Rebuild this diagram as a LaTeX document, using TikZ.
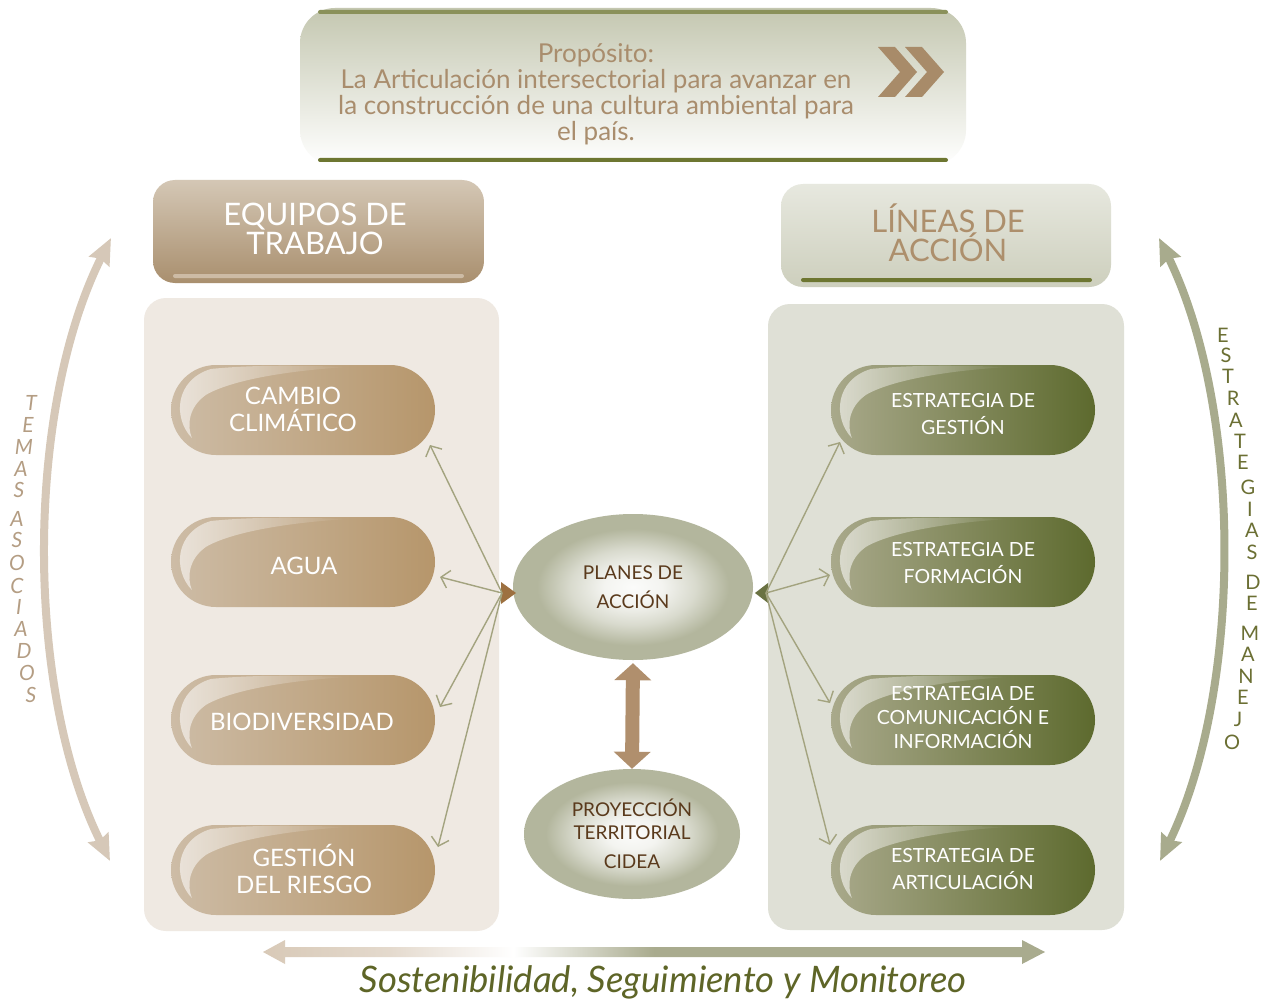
\documentclass[tikz,border=0pt]{standalone}
\usepackage{fontspec}
\setmainfont{Lato}
\usetikzlibrary{arrows.meta,fadings,shapes.geometric,shapes.misc}
\definecolor{topboxC}{HTML}{C4C7B0}
\definecolor{tanText}{HTML}{A98D6D}
\definecolor{chevC}{HTML}{A88B69}
\definecolor{lhTop}{HTML}{D4C7B5}
\definecolor{lhBot}{HTML}{A98F6E}
\definecolor{lhLine}{HTML}{CDBBA5}
\definecolor{rhTop}{HTML}{E7E8DF}
\definecolor{rhBot}{HTML}{CDCFBD}
\definecolor{rhText}{HTML}{AD8F6C}
\definecolor{olvD}{HTML}{6D7631}
\definecolor{olvLt}{HTML}{E2E1D0}
\definecolor{panelL}{HTML}{EFE9E2}
\definecolor{panelR}{HTML}{DFE0D6}
\definecolor{pillLl}{HTML}{CDBCA6}
\definecolor{pillLr}{HTML}{B6966B}
\definecolor{pillRl}{HTML}{A9A98B}
\definecolor{pillRr}{HTML}{5D6A2E}
\definecolor{ellC}{HTML}{B3B69D}
\definecolor{ellText}{HTML}{5A3A1C}
\definecolor{connC}{HTML}{A3A37F}
\definecolor{hubLC}{HTML}{9D7040}
\definecolor{hubRC}{HTML}{6A7242}
\definecolor{dblC}{HTML}{B08F6D}
\definecolor{arcLC}{HTML}{D6C8B8}
\definecolor{arcRC}{HTML}{A8AB8D}
\definecolor{sideLC}{HTML}{B49D83}
\definecolor{sideRC}{HTML}{6B6F33}
\definecolor{botL}{HTML}{D8C9B7}
\definecolor{botR}{HTML}{A9AB8E}
\definecolor{botText}{HTML}{5E6527}
\tikzfading[name=swfade, left color=transparent!0, right color=transparent!100]
\pgfdeclareradialshading{ellsh}{\pgfpoint{0bp}{0bp}}{color(0bp)=(white!95!ellC); color(6bp)=(white!85!ellC); color(13bp)=(white!50!ellC); color(20bp)=(ellC); color(25bp)=(ellC); color(50bp)=(ellC)}
\pgfdeclarehorizontalshading{botsh}{100bp}{color(0bp)=(botL); color(25bp)=(botL); color(33bp)=(botL!70!white); color(41bp)=(white); color(50bp)=(botR); color(75bp)=(botR); color(100bp)=(botR)}
\begin{document}
\begin{tikzpicture}[x=1pt,y=-1pt,
  pillL/.style={rounded rectangle, minimum width=264pt, minimum height=90pt, inner sep=0pt,
    left color=pillLl, right color=pillLr},
  pillR/.style={rounded rectangle, minimum width=264pt, minimum height=90pt, inner sep=0pt,
    left color=pillRl, right color=pillRr},
  pilltxL/.style={text=white, align=center, font=\fontsize{24}{27}\selectfont},
  pilltxR/.style={text=white, align=center, font=\fontsize{19.5}{27}\selectfont},
  ellbox/.style={ellipse, shading=ellsh, inner sep=0pt, text=ellText, align=center, font=\fontsize{19}{29}\selectfont},
  conn/.style={draw=connC, line width=1.4pt, -{Straight Barb[length=8pt,width=18pt]}},
  swoosh/.pic={\fill[white, path fading=swfade, fill opacity=0.6]
     (21,28) .. controls (2,8) and (4,-30) .. (40,-41) .. controls (90,-46) and (140,-44) .. (180,-43)
     .. controls (120,-40) and (60,-30) .. (35,-15) .. controls (18,-3) and (16,15) .. cycle;},
  sideL/.style={text=sideLC, font=\fontsize{21}{21}\selectfont\itshape, inner sep=0pt},
  sideR/.style={text=sideRC, font=\fontsize{20}{20}\selectfont, inner sep=0pt},
  arcarrow/.style={line width=8pt, {Stealth[length=26pt,width=22pt,inset=3pt]}-{Stealth[length=26pt,width=22pt,inset=3pt]}}
]
\useasboundingbox (0,0) rectangle (1268,1003);
\fill[white] (0,0) rectangle (1268,1003);

% top purpose box
\shade[top color=topboxC, bottom color=white, rounded corners=35pt] (300,165) rectangle (966,8);
\shade[left color=olvD!80!white, middle color=olvLt, right color=olvD!80!white, rounded corners=2pt] (318,10) rectangle (948,14);
\shade[left color=olvD, middle color=olvLt, right color=olvD, rounded corners=2pt] (318,158) rectangle (948,162);
\node[text=tanText, align=center, font=\fontsize{26}{26}\selectfont] (purp) at (596,94)
  {Propósito:\\La Articulación intersectorial para avanzar en\\la construcción de una cultura ambiental para\\el país.};
\fill[chevC] (878,47) -- (895,47) -- (917,72) -- (895,97) -- (878,97) -- (900,72) -- cycle;
\fill[chevC] (905,47) -- (922,47) -- (944,72) -- (922,97) -- (905,97) -- (927,72) -- cycle;

% headers
\shade[top color=lhTop, bottom color=lhBot, rounded corners=22pt] (153,180) rectangle (484,283);
\shade[left color=lhLine, middle color=white!85!lhLine, right color=lhLine, rounded corners=2pt] (173,274) rectangle (464,278);
\node[text=white, align=center, font=\fontsize{31}{29}\selectfont] (eqh) at (315,229) {EQUIPOS DE\\TRABAJO};
\shade[top color=rhTop, bottom color=rhBot, rounded corners=22pt] (781,184) rectangle (1111,287);
\shade[left color=olvD, middle color=olvLt, right color=olvD, rounded corners=2pt] (801,278) rectangle (1092,282);
\node[text=rhText, align=center, font=\fontsize{31}{29}\selectfont] (lah) at (948,233) {LÍNEAS DE\\ACCIÓN};

% panels
\fill[panelL, rounded corners=22pt] (144,298) rectangle (499,931);
\fill[panelR, rounded corners=22pt] (768,304) rectangle (1124,930);

% left pills
\node[pillL] (cc) at (303,410) {};
\node[pillL] (ag) at (303,562) {};
\node[pillL] (bio) at (303,720) {};
\node[pillL] (gr) at (303,870) {};
\foreach \n in {cc,ag,bio,gr} \pic at (\n.west) {swoosh};
\node[pilltxL] (cct) at (293,409) {CAMBIO\\CLIMÁTICO};
\node[pilltxL] (agt) at (304,566) {AGUA};
\node[pilltxL] (biot) at (302,722) {BIODIVERSIDAD};
\node[pilltxL] (grt) at (304,869) {GESTIÓN\\DEL RIESGO};

% right pills
\node[pillR] (eg) at (963,410) {};
\node[pillR] (ef) at (963,562) {};
\node[pillR] (ec) at (963,720) {};
\node[pillR] (ea) at (963,870) {};
\foreach \n in {eg,ef,ec,ea} \pic at (\n.west) {swoosh};
\node[pilltxR] (egt) at (963,414) {ESTRATEGIA DE\\GESTIÓN};
\node[pilltxR] (eft) at (963,563) {ESTRATEGIA DE\\FORMACIÓN};
\node[pilltxR, font=\fontsize{19.5}{24}\selectfont] (ect) at (963,718) {ESTRATEGIA DE\\COMUNICACIÓN E\\INFORMACIÓN};
\node[pilltxR] (eat) at (963,869) {ESTRATEGIA DE\\ARTICULACIÓN};

% ellipses
\node[ellbox, minimum width=240pt, minimum height=146pt] (pa) at (633,587) {PLANES DE\\ACCIÓN};
\node[ellbox, minimum width=216pt, minimum height=130pt, font=\fontsize{19}{23}\selectfont] (pt) at (632,834) {PROYECCIÓN\\TERRITORIAL\\[6pt]CIDEA};
\draw[dblC, line width=14pt, {Triangle[length=17pt,width=36pt]}-{Triangle[length=17pt,width=36pt]}, shorten <=3pt] (pa.south) -- (pt.north);

% hubs and connectors
\coordinate (hubL) at (502,593);
\coordinate (hubR) at (766,593);
\fill[hubLC] (501,582) -- (516,593) -- (501,604) -- cycle;
\fill[hubRC] (768,583) -- (755,593) -- (768,603) -- cycle;
\coordinate (tL1) at (430,445);
\coordinate (tL2) at (440,577);
\coordinate (tL3) at (440,707);
\coordinate (tL4) at (438,847);
\coordinate (tR1) at (840,442);
\coordinate (tR2) at (830,575);
\coordinate (tR3) at (830,703);
\coordinate (tR4) at (830,845);
\foreach \t in {tL1,tL2,tL3,tL4} \draw[conn] (hubL) -- (\t);
\foreach \t in {tR1,tR2,tR3,tR4} \draw[conn] (hubR) -- (\t);

% side arcs
\coordinate (aLt) at (111,238);
\coordinate (aLb) at (110,861);
\coordinate (aRt) at (1159,238);
\coordinate (aRb) at (1160,861);
\draw[arcLC, arcarrow] (aLt) .. controls (25,410) and (25,690) .. (aLb);
\draw[arcRC, arcarrow] (aRt) .. controls (1243,410) and (1243,690) .. (aRb);

% side texts
\foreach \c/\x/\y [count=\i] in {T/31/403,E/28/425,M/24/447,A/21/469,S/19/490,A/17/519,S/17/540,O/17/563,C/17/586,I/19/607,A/21/629,D/24/651,O/27/673,S/31/695}
  \node[sideL] (sl\i) at (\x,\y) {\c};
\foreach \c/\x/\y [count=\i] in {E/1223/335,S/1226/355,T/1228/376,R/1233/398,A/1236/420,T/1240/441,E/1243/462,G/1248/487,I/1250/509,A/1252/530,S/1252/552,D/1253/582,E/1252/603,M/1250/633,A/1248/654,N/1246/676,E/1243/697,J/1238/719,O/1232/742}
  \node[sideR] (sr\i) at (\x,\y) {\c};

% bottom arrow and text
\shade[shading=botsh] (263,952) -- (285,940) -- (285,947) -- (1022,947) -- (1022,940) -- (1045,952)
  -- (1022,964) -- (1022,957) -- (285,957) -- (285,964) -- cycle;
\node[text=botText, font=\fontsize{36.5}{36}\selectfont\itshape] (sost) at (663,982) {Sostenibilidad, Seguimiento y Monitoreo};
\end{tikzpicture}
\end{document}
